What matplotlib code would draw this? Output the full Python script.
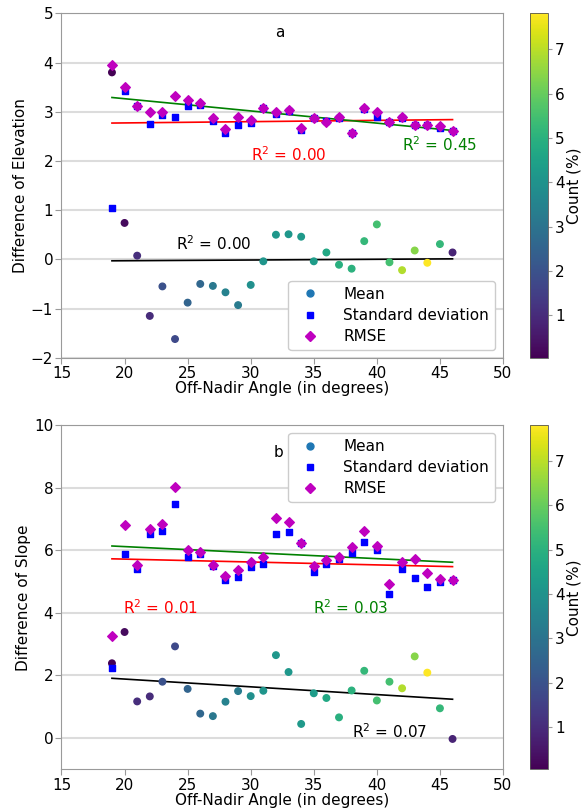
import numpy as np
import matplotlib
matplotlib.use("Agg")
import matplotlib.pyplot as plt
from matplotlib.lines import Line2D

# Off-nadir angles (degrees)
angles = list(range(19, 47))

# Share of samples per angle (%), shared by both panels
count_pct = [0.04, 0.25, 1.05, 1.00, 1.98, 1.75, 2.50, 2.60, 3.15, 3.50,
             3.25, 3.90, 4.10, 4.15, 4.15, 4.20, 4.30, 4.70, 4.95, 5.00,
             5.20, 5.50, 5.50, 6.90, 6.40, 7.81, 5.20, 0.82]

# Panel a: elevation differences
elev_mean = [3.80, 0.74, 0.075, -1.15, -0.55, -1.62, -0.88, -0.50, -0.54, -0.67,
             -0.93, -0.52, -0.04, 0.50, 0.51, 0.46, -0.04, 0.14, -0.11, -0.19,
             0.37, 0.71, -0.06, -0.22, 0.18, -0.07, 0.31, 0.14]
elev_std = [1.05, 3.42, 3.11, 2.76, 2.93, 2.90, 3.12, 3.14, 2.81, 2.57,
            2.73, 2.78, 3.07, 2.95, 3.01, 2.62, 2.88, 2.82, 2.88, 2.57,
            3.06, 2.90, 2.79, 2.88, 2.74, 2.73, 2.67, 2.61]
elev_rmse = [3.95, 3.50, 3.11, 2.99, 2.99, 3.33, 3.24, 3.18, 2.87, 2.65,
             2.90, 2.84, 3.07, 2.99, 3.04, 2.67, 2.88, 2.79, 2.89, 2.57,
             3.08, 3.00, 2.79, 2.89, 2.74, 2.74, 2.72, 2.61]

# Panel b: slope differences
slope_mean = [2.39, 3.39, 1.17, 1.33, 1.80, 2.93, 1.57, 0.78, 0.70, 1.16,
              1.50, 1.34, 1.51, 2.65, 2.11, 0.45, 1.43, 1.28, 0.66, 1.52,
              2.15, 1.20, 1.80, 1.59, 2.61, 2.09, 0.95, -0.03]
slope_std = [2.24, 5.89, 5.39, 6.53, 6.61, 7.49, 5.79, 5.88, 5.50, 5.04,
             5.15, 5.46, 5.56, 6.53, 6.59, 6.22, 5.30, 5.56, 5.73, 5.93,
             6.27, 6.01, 4.61, 5.39, 5.12, 4.84, 4.98, 5.05]
slope_rmse = [3.26, 6.81, 5.52, 6.67, 6.84, 8.04, 6.00, 5.95, 5.53, 5.18,
              5.36, 5.62, 5.78, 7.04, 6.90, 6.22, 5.50, 5.69, 5.78, 6.12,
              6.63, 6.14, 4.94, 5.63, 5.74, 5.27, 5.10, 5.04]

# Linear trend coefficients (slope, intercept) and R^2 labels
elev_fit = {"mean": (0.00148, -0.058), "std": (0.00259, 2.721), "rmse": (-0.02481, 3.761)}
elev_r2 = {"mean": "0.00", "std": "0.00", "rmse": "0.45"}
slope_fit = {"mean": (-0.02481, 2.381), "std": (-0.00926, 5.906), "rmse": (-0.01926, 6.506)}
slope_r2 = {"mean": "0.07", "std": "0.01", "rmse": "0.03"}

plt.rcParams["font.family"] = ["DejaVu Sans"]
plt.rcParams["font.size"] = 11

fig = plt.figure(figsize=(5.84, 8.09), dpi=100)

ax_a = fig.add_axes([0.1053, 0.5578, 0.756, 0.4257])
cax_a = fig.add_axes([0.9075, 0.5578, 0.0308, 0.4257])
ax_b = fig.add_axes([0.1053, 0.0491, 0.756, 0.4252])
cax_b = fig.add_axes([0.9075, 0.0491, 0.0308, 0.4252])

spine_col = "#9a9a9a"
grid_col = "#dcdcdc"
x = np.array(angles, dtype=float)
vmin, vmax = min(count_pct), max(count_pct)


def draw_panel(ax, cax, mean, std, rmse, fit, r2, label_pos, letter, letter_pos,
               ylim, yticks, ylabel, legend_loc):
    ax.set_axisbelow(True)
    ax.yaxis.grid(True, color=grid_col, lw=1.5)
    ax.xaxis.grid(False)
    xs = np.array([x.min(), x.max()])
    for key, col in (("mean", "black"), ("std", "red"), ("rmse", "green")):
        k, b = fit[key]
        ax.plot(xs, k * xs + b, color=col, lw=1.2, zorder=2)
    sc = ax.scatter(x, mean, c=count_pct, cmap="viridis", vmin=vmin, vmax=vmax,
                    s=22, marker="o", zorder=3)
    ax.scatter(x, std, color="#0000ff", s=20, marker="s", zorder=3)
    ax.scatter(x, rmse, color="#bf00bf", s=24, marker="D", zorder=4)

    for key, col in (("std", "red"), ("rmse", "green"), ("mean", "black")):
        px, py = label_pos[key]
        ax.text(px, py, "R$^2$ = " + r2[key], color=col, fontsize=11,
                ha="left", va="center")
    ax.text(letter_pos[0], letter_pos[1], letter, fontsize=11, ha="center", va="center")

    ax.set_xlim(15, 50)
    ax.set_xticks([15, 20, 25, 30, 35, 40, 45, 50])
    ax.set_ylim(*ylim)
    ax.set_yticks(yticks)
    ax.set_xlabel("Off-Nadir Angle (in degrees)", labelpad=0)
    ax.set_ylabel(ylabel, labelpad=2)
    for sp in ax.spines.values():
        sp.set_color(spine_col)
    ax.tick_params(colors=spine_col, labelcolor="black", length=4, pad=2)

    handles = [
        Line2D([], [], marker="o", ls="", color="#1f77b4", markersize=5),
        Line2D([], [], marker="s", ls="", color="#0000ff", markersize=5),
        Line2D([], [], marker="D", ls="", color="#bf00bf", markersize=5),
    ]
    ax.legend(handles, ["Mean", "Standard deviation", "RMSE"], loc=legend_loc,
              fontsize=11, framealpha=1.0, edgecolor="#cccccc",
              handletextpad=1.2, borderpad=0.4, labelspacing=0.4)

    cb = fig.colorbar(sc, cax=cax)
    cb.set_ticks([1, 2, 3, 4, 5, 6, 7])
    cb.set_label("Count (%)", labelpad=1)
    cb.outline.set_edgecolor("#555555")
    cb.outline.set_linewidth(0.6)
    cax.tick_params(length=3, colors=spine_col, labelcolor="black", pad=2)


draw_panel(ax_a, cax_a, elev_mean, elev_std, elev_rmse, elev_fit, elev_r2,
           {"std": (30.05, 2.12), "rmse": (42.0, 2.33), "mean": (24.05, 0.31)},
           "a", (32.3, 4.61), (-2, 5), [-2, -1, 0, 1, 2, 3, 4, 5],
           "Difference of Elevation", "lower right")

draw_panel(ax_b, cax_b, slope_mean, slope_std, slope_rmse, slope_fit, slope_r2,
           {"std": (19.9, 4.16), "rmse": (34.95, 4.16), "mean": (38.0, 0.21)},
           "b", (32.2, 9.14), (-1, 10), [0, 2, 4, 6, 8, 10],
           "Difference of Slope", "upper right")

fig.savefig("out.png", dpi=100)
